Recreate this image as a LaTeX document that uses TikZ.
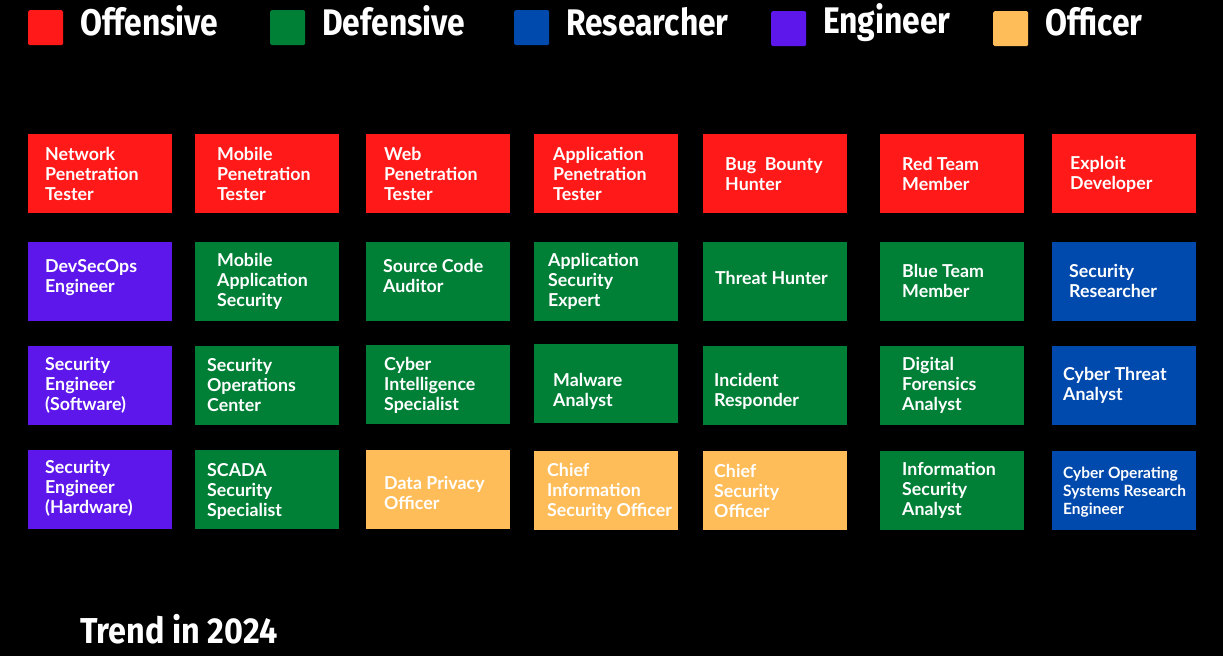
\documentclass[tikz,border=0pt]{standalone}
\usepackage{fontspec}
\newfontfamily\boxfont{Lato}[UprightFont=* Bold]
\newfontfamily\legfont{Fira Sans}[UprightFont=* Bold,FakeStretch=0.86]
\newfontfamily\titlefont{Fira Sans}[UprightFont=* Bold,FakeStretch=0.90]
\definecolor{cRed}{HTML}{FF1919}
\definecolor{cGreen}{HTML}{008037}
\definecolor{cBlue}{HTML}{004AAD}
\definecolor{cPurple}{HTML}{5E17EB}
\definecolor{cOrange}{HTML}{FFBD59}
\tikzset{
  jobbox/.style={anchor=north west,minimum width=144pt,minimum height=79pt,inner sep=0pt,draw=none},
  jobtext/.style={anchor=west,align=left,inner sep=0pt,text=white,font=\boxfont\fontsize{17.8}{20}\selectfont},
  smalltext/.style={jobtext,font=\boxfont\fontsize{15.5}{18}\selectfont},
  legsq/.style={anchor=north west,minimum width=35pt,minimum height=35pt,inner sep=0pt,rounded corners=1.5pt},
  legtext/.style={anchor=base west,inner sep=0pt,text=white,font=\legfont\fontsize{37}{40}\selectfont},
}
% #1 name, #2 x, #3 y, #4 colour, #5 text x, #6 text y, #7 text
\newcommand{\jobcard}[7]{%
  \node[jobbox,fill=#4] (b#1) at (#2,#3) {};
  \node[jobtext] (t#1) at (#5,#6) {#7};
}
\begin{document}
\begin{tikzpicture}[x=1pt,y=-1pt]
\fill[black] (0,0) rectangle (1223,656);
\useasboundingbox (0,0) rectangle (1223,656);
% legend
\node[legsq,fill=cRed] (sq1) at (28,10) {};
\node[legtext] (l1) at (80,35) {Offensive};
\node[legsq,fill=cGreen] (sq2) at (270,10) {};
\node[legtext] (l2) at (322,35) {Defensive};
\node[legsq,fill=cBlue] (sq3) at (514,10) {};
\node[legtext] (l3) at (566,35) {Researcher};
\node[legsq,fill=cPurple] (sq4) at (771,11) {};
\node[legtext] (l4) at (823,33) {Engineer};
\node[legsq,fill=cOrange] (sq5) at (993,11) {};
\node[legtext] (l5) at (1045,35) {Officer};
% row 1
\jobcard{11}{28}{134}{cRed}{45}{174}{Network\\Penetration\\Tester}
\jobcard{12}{195}{134}{cRed}{217}{174}{Mobile\\Penetration\\Tester}
\jobcard{13}{366}{134}{cRed}{384}{174}{Web\\Penetration\\Tester}
\jobcard{14}{534}{134}{cRed}{553}{174}{Application\\Penetration\\Tester}
\jobcard{15}{703}{134}{cRed}{725}{174}{Bug\ \ Bounty\\Hunter}
\jobcard{16}{880}{134}{cRed}{902}{174}{Red Team\\Member}
\jobcard{17}{1052}{134}{cRed}{1070}{174}{Exploit\\Developer}
% row 2
\jobcard{21}{28}{242}{cPurple}{45}{278}{DevSecOps\\Engineer}
\jobcard{22}{195}{242}{cGreen}{217}{281}{Mobile\\Application\\Security}
\jobcard{23}{366}{242}{cGreen}{383}{276}{Source Code\\Auditor}
\jobcard{24}{534}{242}{cGreen}{548}{281}{Application\\Security\\Expert}
\jobcard{25}{703}{242}{cGreen}{715}{278}{Threat Hunter}
\jobcard{26}{880}{242}{cGreen}{902}{281}{Blue Team\\Member}
\jobcard{27}{1052}{242}{cBlue}{1069}{281}{Security\\Researcher}
% row 3
\jobcard{31}{28}{346}{cPurple}{45}{385}{Security\\Engineer\\(Software)}
\jobcard{32}{195}{346}{cGreen}{207}{385}{Security\\Operations\\Center}
\jobcard{33}{366}{345}{cGreen}{384}{385}{Cyber\\Intelligence\\Specialist}
\jobcard{34}{534}{344}{cGreen}{553}{391}{Malware\\Analyst}
\jobcard{35}{703}{346}{cGreen}{714}{391}{Incident\\Responder}
\jobcard{36}{880}{346}{cGreen}{902}{385}{Digital\\Forensics\\Analyst}
\jobcard{37}{1052}{346}{cBlue}{1063}{385}{Cyber Threat\\Analyst}
% row 4
\jobcard{41}{28}{450}{cPurple}{45}{488}{Security\\Engineer\\(Hardware)}
\jobcard{42}{195}{450}{cGreen}{207}{491}{SCADA\\Security\\Specialist}
\jobcard{43}{366}{450}{cOrange}{384}{493}{Data Privacy\\Officer}
\jobcard{44}{534}{451}{cOrange}{547}{491}{Chief\\Information\\Security Officer}
\jobcard{45}{703}{451}{cOrange}{714}{491}{Chief\\Security\\Officer}
\jobcard{46}{880}{451}{cGreen}{902}{490}{Information\\Security\\Analyst}
\node[jobbox,fill=cBlue] (b47) at (1052,451) {};
\node[smalltext] (t47) at (1063,492) {Cyber Operating\\Systems Research\\Engineer};
% title
\node[legtext,font=\titlefont\fontsize{36}{40}\selectfont] (title) at (80,643) {Trend in 2024};
\end{tikzpicture}
\end{document}
